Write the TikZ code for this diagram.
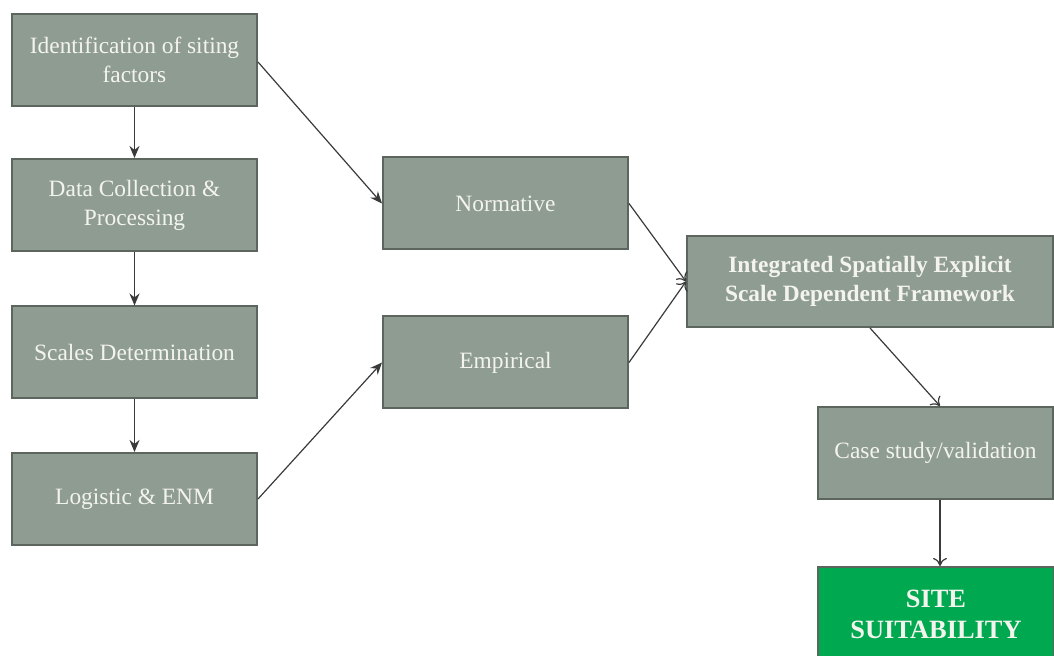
\documentclass[tikz,border=0pt]{standalone}
\usepackage{fontspec}
\setmainfont{Liberation Serif}
\usetikzlibrary{arrows.meta}
\definecolor{boxfill}{HTML}{8F9C91}
\definecolor{boxline}{HTML}{5C655E}
\definecolor{sitegreen}{HTML}{00A850}
\definecolor{arrowc}{HTML}{3A3A3A}
\definecolor{txt}{HTML}{F4F4EE}
\begin{document}
\begin{tikzpicture}[x=0.5pt,y=-0.5pt,
  box/.style={draw=boxline, line width=1pt, fill=boxfill, text=txt, align=center,
    inner sep=0pt, font=\fontsize{11.7}{14.5}\selectfont},
  lbox/.style={box, minimum width=122.5pt, minimum height=46pt},
  filledarr/.style={draw=arrowc, line width=0.6pt, -{Stealth[length=6pt,width=5pt]}},
  openarr/.style={draw=arrowc, line width=0.6pt, -{To[length=4pt,width=7pt]}}]
\useasboundingbox (0,0) rectangle (1054,656);
\node[lbox] (A) at (134.5,60) {Identification of siting\\factors};
\node[lbox] (B) at (134.5,205) {Data Collection \&\\Processing};
\node[lbox] (C) at (134.5,352.5) {Scales Determination};
\node[lbox] (D) at (134.5,499) {Logistic \& ENM};
\node[lbox] (N) at (505.5,203.5) {Normative};
\node[lbox] (E) at (505.5,362.5) {Empirical};
\node[box, minimum width=183pt, minimum height=45.5pt, font=\fontsize{11.7}{14.5}\selectfont\bfseries] (I) at (870,281.5) {Integrated Spatially Explicit\\Scale Dependent Framework};
\node[box, minimum width=117.5pt, minimum height=46pt] (CS) at (935.5,453) {Case study/validation};
\node[box, fill=sitegreen, draw=boxline, minimum width=118pt, minimum height=47pt,
  font=\fontsize{13.2}{15.5}\selectfont\bfseries] (S) at (936,614) {SITE\\SUITABILITY};
\coordinate (csn) at (CS.north -| 940,0);
\coordinate (css) at (CS.south -| 940,0);
\coordinate (sn) at (S.north -| 940,0);
\coordinate (a1) at ([yshift=-1pt]A.east);
\draw[filledarr] (A) -- (B);
\draw[filledarr] (B) -- (C);
\draw[filledarr] (C) -- (D);
\draw[filledarr] (a1) -- (N.west);
\draw[filledarr] (D.east) -- (E.west);
\draw[openarr] (N.east) -- (I.west);
\draw[openarr] (E.east) -- (I.west);
\draw[openarr] (I.south) -- (csn);
\draw[openarr] (css) -- (sn);
\end{tikzpicture}
\end{document}
